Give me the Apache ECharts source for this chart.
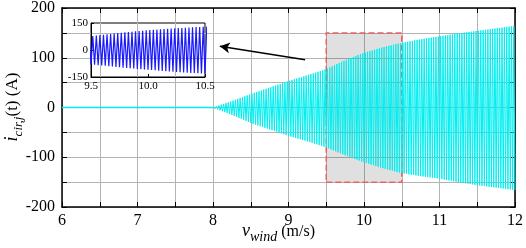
<!DOCTYPE html>
<html><head><meta charset="utf-8">
<script src="https://cdn.jsdelivr.net/npm/echarts@6/dist/echarts.min.js"></script>
<style>html,body{margin:0;padding:0;background:#fff}#c{width:526px;height:248px}</style>
</head><body><div id="c"></div>
<script>
// Envelope of the oscillation (wind speed m/s -> current A)
var envX     = [8, 8.25, 8.5, 8.75, 9, 9.25, 9.5, 9.75, 10, 10.25, 10.5, 10.75, 11, 11.25, 11.5, 11.75, 12];
var envUpper = [0, 13, 27, 40, 53, 65, 77, 95, 110, 121, 130, 137, 143, 149, 154, 159, 164];
var envLower = [0, -15, -31, -44, -57, -68, -80, -96, -110, -122, -132, -138, -143, -150, -156, -161, -166];
var flatPart = [[6, 0], [8, 0]];  // current stays zero below 8 m/s
var cyclesPerUnit = 32;          // oscillation cycles per 1 m/s (counted in inset)
var xTicks = [6, 7, 8, 9, 10, 11, 12];
var yTicks = [-200, -100, 0, 100, 200];
var insetXTicks = ['9.5', '10.0', '10.5'];
var insetYTicks = [-150, 0, 150];
var zoomBox = {x0: 9.5, x1: 10.5, y0: -150, y1: 150};
var arrowFrom = [9.22, 96], arrowTo = [8.09, 123];

function env(arr, x) {
  for (var i = 0; i < envX.length - 1; i++) {
    if (x <= envX[i + 1]) {
      var t = (x - envX[i]) / (envX[i + 1] - envX[i]);
      return arr[i] + t * (arr[i + 1] - arr[i]);
    }
  }
  return arr[arr.length - 1];
}
var wave = [[8, 0]];
var nHalf = Math.round((12 - 8) * cyclesPerUnit * 2);
for (var k = 1; k <= nHalf; k++) {
  var x = 8 + k / (2 * cyclesPerUnit);
  wave.push([x, k % 2 ? env(envUpper, x) : env(envLower, x)]);
}
var insetWave = wave.filter(function (p) { return p[0] >= 9.48 && p[0] <= 10.52; });

var serif = 'Liberation Serif';
var cyan = '#00eef0';
var chart = echarts.init(document.getElementById('c'), null, {renderer: 'canvas'});
chart.setOption({
  animation: false,
  grid: [
    {left: 62, right: 11, top: 7, bottom: 41, show: false},
    {left: 91, top: 23, width: 114, height: 54, show: true, backgroundColor: 'rgba(0,0,0,0)', borderColor: '#000', borderWidth: 1}
  ],
  xAxis: [
    {gridIndex: 0, type: 'value', min: 6, max: 12, interval: 0.5,
     axisLine: {show: true, onZero: false, lineStyle: {color: '#000', width: 1.5}},
     axisTick: {inside: true, length: 5, lineStyle: {color: '#000'}},
     axisLabel: {margin: 6, color: '#000', fontFamily: serif, fontSize: 16,
       formatter: function (v) { return xTicks.indexOf(v) >= 0 ? String(v) : ''; }},
     splitLine: {show: true, lineStyle: {color: '#b4b4b4', width: 1}}},
    {gridIndex: 0, type: 'value', position: 'top', min: 6, max: 12, interval: 0.5,
     axisLine: {show: true, onZero: false, lineStyle: {color: '#000', width: 1.5}},
     axisTick: {inside: true, length: 5, lineStyle: {color: '#000'}},
     axisLabel: {show: false}, splitLine: {show: false}},
    {gridIndex: 1, type: 'value', min: 9.5, max: 10.5, interval: 0.5,
     axisLine: {show: true, onZero: false, lineStyle: {color: '#000', width: 1}},
     axisTick: {inside: true, length: 3, lineStyle: {color: '#000'}},
     axisLabel: {margin: 4, color: '#000', fontFamily: serif, fontSize: 11,
       formatter: function (v) { return insetXTicks[Math.round((v - 9.5) / 0.5)]; }},
     splitLine: {show: false}}
  ],
  yAxis: [
    {gridIndex: 0, type: 'value', min: -200, max: 200, interval: 50,
     axisLine: {show: true, onZero: false, lineStyle: {color: '#000', width: 1.5}},
     axisTick: {inside: true, length: 5, lineStyle: {color: '#000'}},
     axisLabel: {margin: 7, color: '#000', fontFamily: serif, fontSize: 16,
       formatter: function (v) { return yTicks.indexOf(v) >= 0 ? String(v) : ''; }},
     splitLine: {show: true, lineStyle: {color: '#b4b4b4', width: 1}}},
    {gridIndex: 0, type: 'value', position: 'right', min: -200, max: 200, interval: 50,
     axisLine: {show: true, onZero: false, lineStyle: {color: '#000', width: 1.5}},
     axisTick: {inside: true, length: 5, lineStyle: {color: '#000'}},
     axisLabel: {show: false}, splitLine: {show: false}},
    {gridIndex: 1, type: 'value', min: -150, max: 150, interval: 150,
     axisLine: {show: true, onZero: false, lineStyle: {color: '#000', width: 1}},
     axisTick: {inside: true, length: 3, lineStyle: {color: '#000'}},
     axisLabel: {margin: 3, color: '#000', fontFamily: serif, fontSize: 11},
     splitLine: {show: false}}
  ],
  series: [
    {type: 'line', xAxisIndex: 0, yAxisIndex: 0, data: flatPart, showSymbol: false, symbol: 'none',
     lineStyle: {color: cyan, width: 1.6}, silent: true, z: 4},
    {type: 'line', xAxisIndex: 0, yAxisIndex: 0, data: wave, showSymbol: false, symbol: 'none',
     lineStyle: {color: cyan, width: 1}, silent: true, z: 3,
     markArea: {silent: true, z: 1,
       itemStyle: {color: 'rgba(0,0,0,0.12)', borderColor: '#f06060', borderWidth: 1.5, borderType: 'dashed'},
       data: [[{xAxis: zoomBox.x0, yAxis: zoomBox.y0}, {xAxis: zoomBox.x1, yAxis: zoomBox.y1}]]},
     markLine: {silent: true, symbol: ['none', 'arrow'], symbolSize: [8, 10], label: {show: false},
       lineStyle: {color: '#000', width: 1.5, type: 'solid'},
       data: [[{coord: arrowFrom}, {coord: arrowTo}]]}},
    {type: 'line', xAxisIndex: 2, yAxisIndex: 2, data: insetWave, showSymbol: false, symbol: 'none',
     clip: true, lineStyle: {color: '#1a1aff', width: 1.2}, silent: true, z: 5}
  ],
  graphic: [
    {type: 'text', left: 242, top: 222, z: 10,
     style: {text: '{i|v}{s|wind}{n| (m/s)}', fill: '#000',
       rich: {i: {fontFamily: serif, fontStyle: 'italic', fontSize: 18, padding: [0, 0, 4, 0], verticalAlign: 'bottom'},
              s: {fontFamily: serif, fontStyle: 'italic', fontSize: 14, verticalAlign: 'bottom'},
              n: {fontFamily: serif, fontSize: 16, padding: [0, 0, 4, 0], verticalAlign: 'bottom'}}}},
    {type: 'text', x: 14, y: 107, rotation: Math.PI / 2, z: 10,
     style: {text: '{i|i}{s|cir,j}{n|(t) (A)}', fill: '#000', align: 'center', verticalAlign: 'middle',
       rich: {i: {fontFamily: serif, fontStyle: 'italic', fontSize: 18, padding: [0, 0, 4, 0], verticalAlign: 'bottom'},
              s: {fontFamily: serif, fontStyle: 'italic', fontSize: 13, verticalAlign: 'bottom'},
              n: {fontFamily: serif, fontSize: 17, padding: [0, 0, 4, 0], verticalAlign: 'bottom'}}}}
  ]
});
</script>
</body></html>
